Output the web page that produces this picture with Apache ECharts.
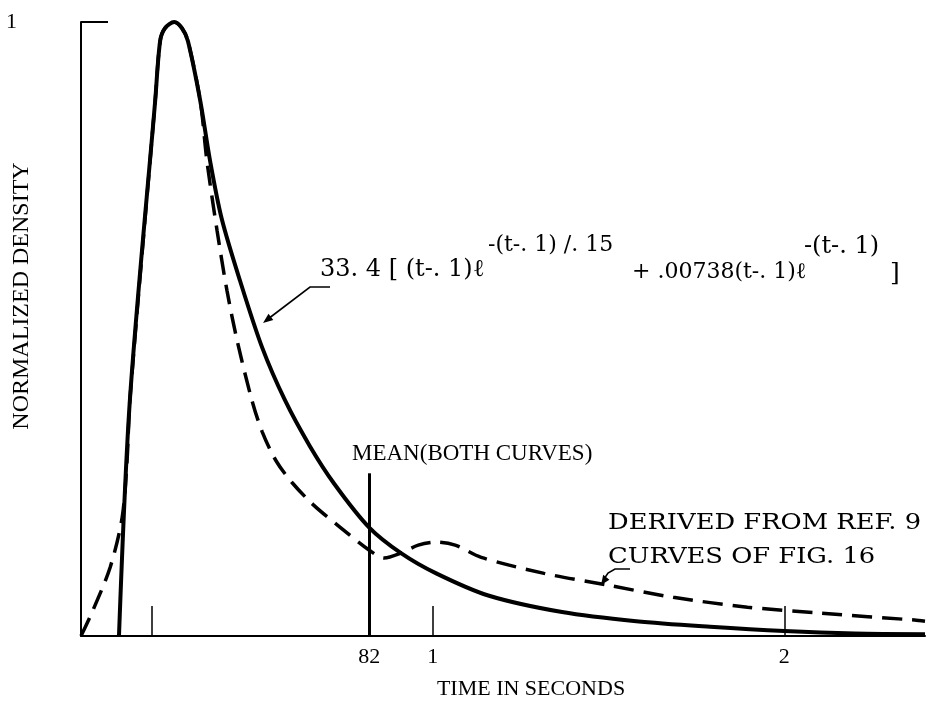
<!DOCTYPE html>
<html>
<head>
<meta charset="utf-8">
<script src="https://cdn.jsdelivr.net/npm/echarts@6/dist/echarts.min.js"></script>
<style>
  html, body { margin: 0; padding: 0; background: #ffffff; }
  #chart { width: 929px; height: 704px; }
</style>
</head>
<body>
<div id="chart"></div>
<script>
// Fitted density curve (solid): time in seconds, normalized density
const fittedTime = [0.108, 0.139, 0.211, 0.225, 0.239, 0.265, 0.287, 0.304, 0.339, 0.367,
  0.400, 0.452, 0.515, 0.580, 0.650, 0.720, 0.819, 0.910, 1.010, 1.158,
  1.368, 1.579, 1.789, 2.000, 2.200, 2.400];
const fittedDensity = [0, 0.384, 0.872, 0.969, 0.990, 1.0, 0.990, 0.969, 0.872, 0.774,
  0.680, 0.579, 0.470, 0.384, 0.310, 0.248, 0.177, 0.135, 0.102, 0.066,
  0.039, 0.024, 0.015, 0.008, 0.004, 0.003];

// Curve derived from reference data (dashed)
const derivedTime = [0, 0.034, 0.083, 0.117, 0.131, 0.139, 0.211, 0.225, 0.239, 0.265,
  0.287, 0.304, 0.339, 0.358, 0.387, 0.415, 0.444, 0.486, 0.515, 0.555,
  0.600, 0.660, 0.737, 0.819, 0.862, 0.910, 0.959, 1.010, 1.064, 1.138,
  1.317, 1.496, 1.684, 1.895, 2.105, 2.370, 2.400];
const derivedDensity = [0, 0.042, 0.112, 0.193, 0.286, 0.384, 0.872, 0.969, 0.990, 1.0,
  0.990, 0.969, 0.872, 0.774, 0.660, 0.563, 0.481, 0.384, 0.333, 0.285,
  0.250, 0.214, 0.177, 0.140, 0.127, 0.135, 0.148, 0.153, 0.148, 0.128,
  0.102, 0.083, 0.063, 0.047, 0.037, 0.026, 0.024];

// Mean of both curves
const meanTime = 0.82;
const meanMarkerTop = 0.265;

// Axis ticks and labels
const xTickValues = [0.2, 1, 2];
const xLabelValues = [0.82, 1, 2];
const xLabelTexts = ['82', '1', '2'];
const xAxisTitle = 'TIME IN SECONDS';
const yAxisTitle = 'NORMALIZED DENSITY';
const meanLabel = 'MEAN(BOTH CURVES)';
const derivedLabel = ['DERIVED FROM REF. 9', 'CURVES OF FIG. 16'];
const formulaParts = ['33. 4 [ (t-. 1)\u2113', '-(t-. 1) /. 15', '+ .00738(t-. 1)\u2113', '-(t-. 1)', ']'];

const SERIF = '"Liberation Serif", "DejaVu Serif", serif';
const WIDE_SERIF = '"DejaVu Serif", "Liberation Serif", serif';
const INK = '#000000';

const pairs = (xs, ys) => xs.map((x, i) => [x, ys[i]]);

const chart = echarts.init(document.getElementById('chart'), null, { renderer: 'canvas' });

function txt(text, x, y, size, family, align, extra) {
  return Object.assign({
    type: 'text',
    x: x, y: y,
    silent: true,
    style: {
      text: text,
      fill: INK,
      font: size + 'px ' + family,
      textAlign: align || 'left',
      textVerticalAlign: 'middle'
    }
  }, extra || {});
}

const option = {
  backgroundColor: '#ffffff',
  animation: false,
  grid: { left: 81, right: 4, top: 22, bottom: 68, containLabel: false },
  xAxis: {
    type: 'value',
    min: 0,
    max: 2.4,
    axisLine: { show: true, onZero: false, lineStyle: { color: INK, width: 2 } },
    axisTick: {
      show: true,
      inside: true,
      length: 30,
      customValues: xTickValues,
      lineStyle: { color: INK, width: 1.5 }
    },
    axisLabel: {
      show: true,
      customValues: xLabelValues,
      margin: 10,
      color: INK,
      fontFamily: SERIF,
      fontSize: 22,
      formatter: function (v) {
        const i = xLabelValues.findIndex(function (u) { return Math.abs(u - v) < 1e-6; });
        return i >= 0 ? xLabelTexts[i] : '';
      }
    },
    splitLine: { show: false }
  },
  yAxis: {
    type: 'value',
    min: 0,
    max: 1,
    interval: 1,
    axisLine: { show: true, lineStyle: { color: INK, width: 2 } },
    axisTick: { show: true, inside: true, length: 27, lineStyle: { color: INK, width: 2 } },
    axisLabel: {
      show: true,
      margin: 64,
      color: INK,
      fontFamily: SERIF,
      fontSize: 22,
      formatter: function (v) { return v === 1 ? '1' : ''; }
    },
    splitLine: { show: false }
  },
  series: [
    {
      name: 'fitted',
      type: 'line',
      data: pairs(fittedTime, fittedDensity),
      smooth: 0.3,
      showSymbol: false,
      lineStyle: { color: INK, width: 4 },
      z: 3,
      markLine: {
        silent: true,
        symbol: ['none', 'none'],
        label: { show: false },
        lineStyle: { color: INK, width: 3, type: 'solid' },
        data: [[{ coord: [meanTime, 0] }, { coord: [meanTime, meanMarkerTop] }]]
      }
    },
    {
      name: 'derived',
      type: 'line',
      data: pairs(derivedTime, derivedDensity),
      smooth: 0.3,
      showSymbol: false,
      lineStyle: { color: INK, width: 3.5, type: [20, 10] },
      z: 2
    }
  ],
  graphic: [
    // axis titles
    txt(xAxisTitle, 531, 689, 22, SERIF, 'center'),
    txt(yAxisTitle, 22, 296, 24, SERIF, 'center', { rotation: Math.PI / 2 }),
    // annotations
    txt(meanLabel, 352, 454, 23, SERIF, 'left'),
    txt(derivedLabel[0], 608, 523, 23, WIDE_SERIF, 'left', { scaleX: 1.12 }),
    txt(derivedLabel[1], 608, 557, 23, WIDE_SERIF, 'left', { scaleX: 1.12 }),
    // formula for the fitted curve
    txt(formulaParts[0], 320, 270, 24, WIDE_SERIF, 'left'),
    txt(formulaParts[1], 488, 245, 22, WIDE_SERIF, 'left'),
    txt(formulaParts[2], 632, 272, 22, WIDE_SERIF, 'left'),
    txt(formulaParts[3], 804, 247, 24, WIDE_SERIF, 'left'),
    txt(formulaParts[4], 890, 273, 25, WIDE_SERIF, 'left'),
    // leader from formula to the solid curve
    {
      type: 'polyline', silent: true,
      shape: { points: [[330, 287], [310, 287], [268, 319]] },
      style: { stroke: INK, lineWidth: 1.6, fill: null }
    },
    {
      type: 'polygon', silent: true,
      shape: { points: [[263, 323], [273.3, 320.1], [268.5, 313.7]] },
      style: { fill: INK }
    },
    // leader from derived-curve label to the dashed curve
    {
      type: 'polyline', silent: true,
      shape: { points: [[630, 569], [615, 569], [608, 573], [604, 579]] },
      style: { stroke: INK, lineWidth: 1.6, fill: null }
    },
    {
      type: 'polygon', silent: true,
      shape: { points: [[601, 585], [609.4, 579.8], [603.2, 574.8]] },
      style: { fill: INK }
    }
  ]
};

chart.setOption(option);
</script>
</body>
</html>
